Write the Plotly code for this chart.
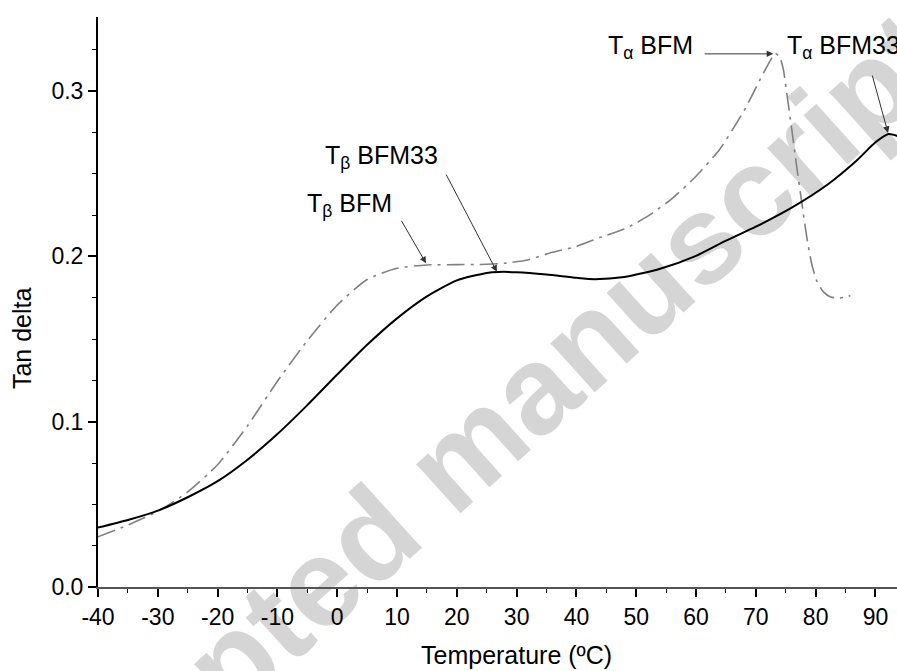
import plotly.graph_objects as go

# BFM33 (solid black)
t_bfm33 = [-40, -35, -30, -25, -20, -15, -10, -5, 0, 5, 10, 15, 20, 25, 27, 30, 35, 40, 43,
           48, 54, 60, 65, 70, 76, 82, 87, 90, 92.2, 93.7]
tan_bfm33 = [0.0359, 0.0405, 0.0462, 0.0543, 0.0640, 0.0770, 0.0925, 0.1100, 0.1285, 0.1465,
             0.1625, 0.1758, 0.1855, 0.1900, 0.1906, 0.1904, 0.1890, 0.1870, 0.1862,
             0.1875, 0.1925, 0.2003, 0.2095, 0.2180, 0.2295, 0.2435, 0.2585, 0.2690, 0.2740, 0.2728]

# BFM (grey dash-dot)
t_bfm = [-40, -35, -30, -25, -20, -15, -10, -5, 0, 5, 10, 15, 20, 25, 28, 32, 36, 40, 44, 48,
         52, 56, 60, 64, 68, 71, 72.5, 73.2, 74.0, 74.6, 75.2, 76.0, 76.8, 77.7, 78.5, 79.3,
         80.2, 81.3, 82.5, 84.0, 85.8]
tan_bfm = [0.0304, 0.0375, 0.0458, 0.0575, 0.0740, 0.0975, 0.1245, 0.1490, 0.1705, 0.1860,
           0.1928, 0.1948, 0.1950, 0.1952, 0.1958, 0.1980, 0.2025, 0.2060, 0.2115, 0.2165,
           0.2245, 0.2350, 0.2485, 0.2650, 0.2880, 0.3090, 0.3190, 0.3229, 0.3205, 0.3130,
           0.2980, 0.2770, 0.2550, 0.2320, 0.2120, 0.1960, 0.1850, 0.1785, 0.1755, 0.1748, 0.1762]

x_ticks = [-40, -30, -20, -10, 0, 10, 20, 30, 40, 50, 60, 70, 80, 90]
x_tick_labels = ["-40", "-30", "-20", "-10", "0", "10", "20", "30", "40", "50", "60", "70", "80", "90"]
y_ticks = [0.0, 0.1, 0.2, 0.3]
y_tick_labels = ["0.0", "0.1", "0.2", "0.3"]

FONT = "Arial, Liberation Sans, sans-serif"

fig = go.Figure()
fig.add_trace(go.Scatter(x=t_bfm, y=tan_bfm, mode="lines",
                         line=dict(color="#808080", width=1.6, dash="18px,6px,3px,6px",
                                   shape="spline", smoothing=0.6),
                         showlegend=False))
fig.add_trace(go.Scatter(x=t_bfm33, y=tan_bfm33, mode="lines",
                         line=dict(color="black", width=2, shape="spline", smoothing=0.6),
                         showlegend=False))

annotations = []
labels = [
    ("T<sub>α</sub> BFM", 59.8, 0.3267, "right"),
    ("T<sub>α</sub> BFM33", 74.9, 0.3267, "left"),
    ("T<sub>β</sub> BFM33", -2.4, 0.2601, "left"),
    ("T<sub>β</sub> BFM", -5.4, 0.2311, "left"),
]
for txt, x, y, anc in labels:
    annotations.append(dict(x=x, y=y, xref="x", yref="y", text=txt, showarrow=False,
                            xanchor=anc, yanchor="middle",
                            font=dict(family=FONT, size=25, color="black")))
arrows = [
    (61.2, 0.3225, 72.9, 0.3225),
    (89.4, 0.3103, 92.1, 0.2747),
    (18.1, 0.2503, 26.7, 0.1907),
    (10.6, 0.2224, 14.85, 0.1958),
]
for ax, ay, x, y in arrows:
    annotations.append(dict(x=x, y=y, ax=ax, ay=ay, xref="x", yref="y", axref="x", ayref="y",
                            text="", showarrow=True, arrowhead=2, arrowsize=1.3,
                            arrowwidth=1, arrowcolor="#333333", standoff=0, startstandoff=0))
annotations.append(dict(x=0.5238, y=-0.1193, xref="paper", yref="paper",
                        text="Temperature (ºC)", showarrow=False, xanchor="center",
                        yanchor="middle", font=dict(family=FONT, size=25, color="black")))
annotations.append(dict(x=-0.0951, y=0.4368, xref="paper", yref="paper",
                        text="Tan delta", showarrow=False, textangle=-90, xanchor="center",
                        yanchor="middle", font=dict(family=FONT, size=25, color="black")))

fig.update_layout(
    width=897, height=671,
    margin=dict(l=98, r=0, t=17, b=84),
    paper_bgcolor="white", plot_bgcolor="white",
    font=dict(family=FONT, size=23, color="black"),
    annotations=annotations,
    shapes=[dict(type="line", xref="paper", yref="paper",
                 x0=-0.146, y0=-0.523, x1=1.015, y1=0.996,
                 line=dict(width=0, color="rgba(0,0,0,0)"), layer="below",
                 label=dict(text="<b>Accepted manuscript</b>", textposition="middle",
                            textangle=-42, yanchor="middle",
                            font=dict(family=FONT, size=125, color="#d5d5d5")))],
)
fig.update_xaxes(range=[-40, 93.6], showline=True, linecolor="#555555", linewidth=2,
                 showgrid=False, zeroline=False, ticks="outside", ticklen=8, tickwidth=1.5,
                 tickcolor="black", tickvals=x_ticks, ticktext=x_tick_labels,
                 minor=dict(dtick=5, tick0=-40, ticks="outside", ticklen=4, tickwidth=1,
                            tickcolor="black"),
                 tickfont=dict(size=23, family=FONT, color="black"))
fig.update_yaxes(range=[0, 0.3448], showline=True, linecolor="black", linewidth=2,
                 showgrid=False, zeroline=False, ticks="outside", ticklen=8, tickwidth=1.5,
                 tickcolor="black", tickvals=y_ticks, ticktext=y_tick_labels,
                 minor=dict(dtick=0.025, tick0=0, ticks="outside", ticklen=4, tickwidth=1,
                            tickcolor="black"),
                 tickfont=dict(size=23, family=FONT, color="black"))

fig.write_html("out.html")
